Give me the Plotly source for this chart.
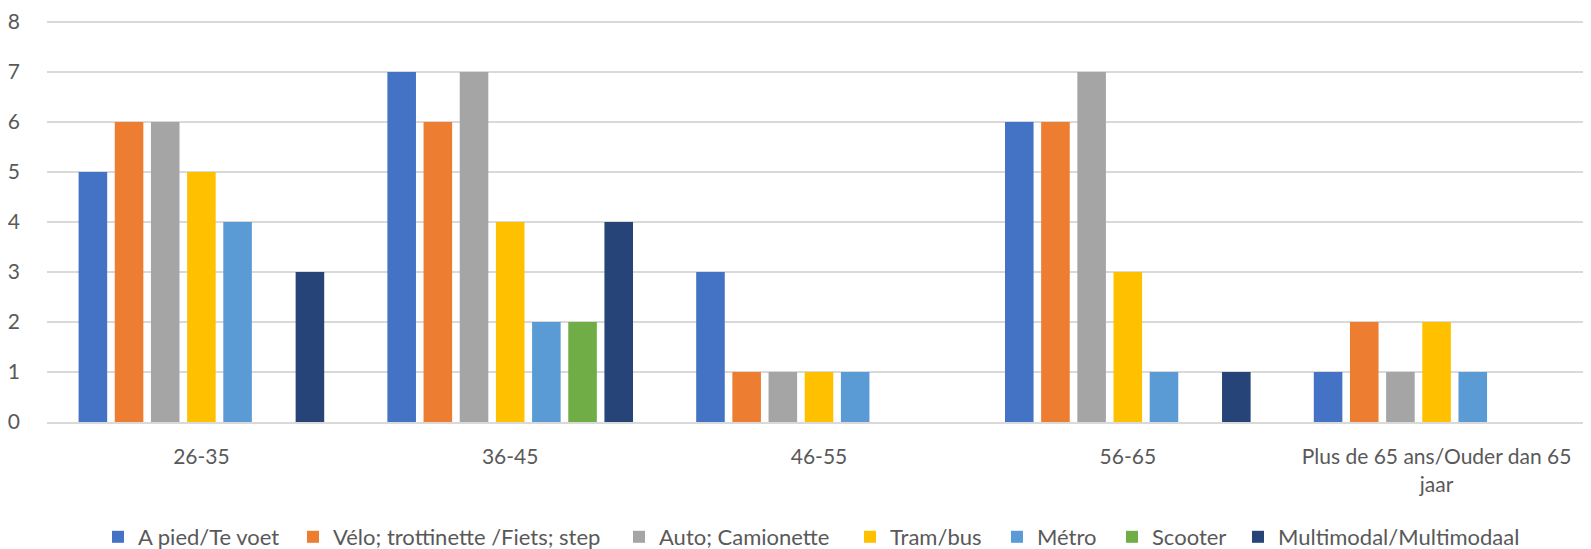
import plotly.graph_objects as go

categories = ["26-35", "36-45", "46-55", "56-65", "Plus de 65 ans/Ouder dan 65<br>jaar"]

series_names = [
    "A pied/Te voet",
    "Vélo; trottinette /Fiets; step",
    "Auto; Camionette",
    "Tram/bus",
    "Métro",
    "Scooter",
    "Multimodal/Multimodaal",
]

a_pied = [5, 7, 3, 6, 1]
velo = [6, 6, 1, 6, 2]
auto = [6, 7, 1, 7, 1]
tram_bus = [5, 4, 1, 3, 2]
metro = [4, 2, 1, 1, 1]
scooter = [None, 2, None, None, None]
multimodal = [3, 4, None, 1, None]

series_values = [a_pied, velo, auto, tram_bus, metro, scooter, multimodal]

_COLORS = ["#4472C4", "#ED7D31", "#A5A5A5", "#FFC000", "#5B9BD5", "#70AD47", "#264478"]
_TEXT = "#595959"
_GRID = "#D9D9D9"
_FONT = "Lato, 'Open Sans', sans-serif"

# the page body keeps its default 8px margin, so draw 8px smaller and shifted
_PAGE_OFFSET = 8
_W, _H = 1591 - _PAGE_OFFSET, 549 - _PAGE_OFFSET
_L, _R, _T, _B = 39, 0, 4, 127

# swatch left edges (page px) of each legend entry, as in the Excel layout
_LEGEND_LEFT = [112, 307, 633, 864, 1011, 1126, 1252]
_LEGEND_MID = 537
_SWATCH_OFFSET = 14  # legend box left -> swatch left

fig = go.Figure()
legend_layouts = {}
for i, (name, values, color) in enumerate(zip(series_names, series_values, _COLORS)):
    legend_id = "legend" if i == 0 else f"legend{i + 1}"
    fig.add_trace(
        go.Bar(
            x=categories,
            y=values,
            name=name,
            marker={"color": color, "line": {"width": 0}},
            legend=legend_id,
        )
    )
    legend_layouts[legend_id] = {
        "orientation": "h",
        "xref": "container",
        "yref": "container",
        "x": (_LEGEND_LEFT[i] - _PAGE_OFFSET - _SWATCH_OFFSET) / _W,
        "xanchor": "left",
        "y": 1 - (_LEGEND_MID - _PAGE_OFFSET) / _H,
        "yanchor": "middle",
        "font": {"size": 22, "color": _TEXT},
        "itemwidth": 30,
        "bgcolor": "rgba(0,0,0,0)",
    }

fig.update_layout(
    showlegend=True,
    barmode="group",
    bargap=0.18,
    bargroupgap=0.21,
    width=_W,
    height=_H,
    paper_bgcolor="white",
    plot_bgcolor="white",
    font={"family": _FONT, "color": _TEXT, "size": 21},
    margin={"l": _L, "r": _R, "t": _T, "b": _B},
    **legend_layouts,
)
fig.update_xaxes(
    automargin=False,
    showgrid=False,
    showline=True,
    linecolor=_GRID,
    linewidth=2,
    ticks="",
    ticklabelstandoff=15,
    tickfont={"size": 21},
)
fig.update_yaxes(
    automargin=False,
    range=[0, 8.2],
    tickvals=[0, 1, 2, 3, 4, 5, 6, 7, 8],
    showgrid=True,
    gridcolor=_GRID,
    gridwidth=2,
    zeroline=False,
    showline=False,
    ticklabelstandoff=26,
    tickfont={"size": 21},
)

fig.write_html("out.html")
